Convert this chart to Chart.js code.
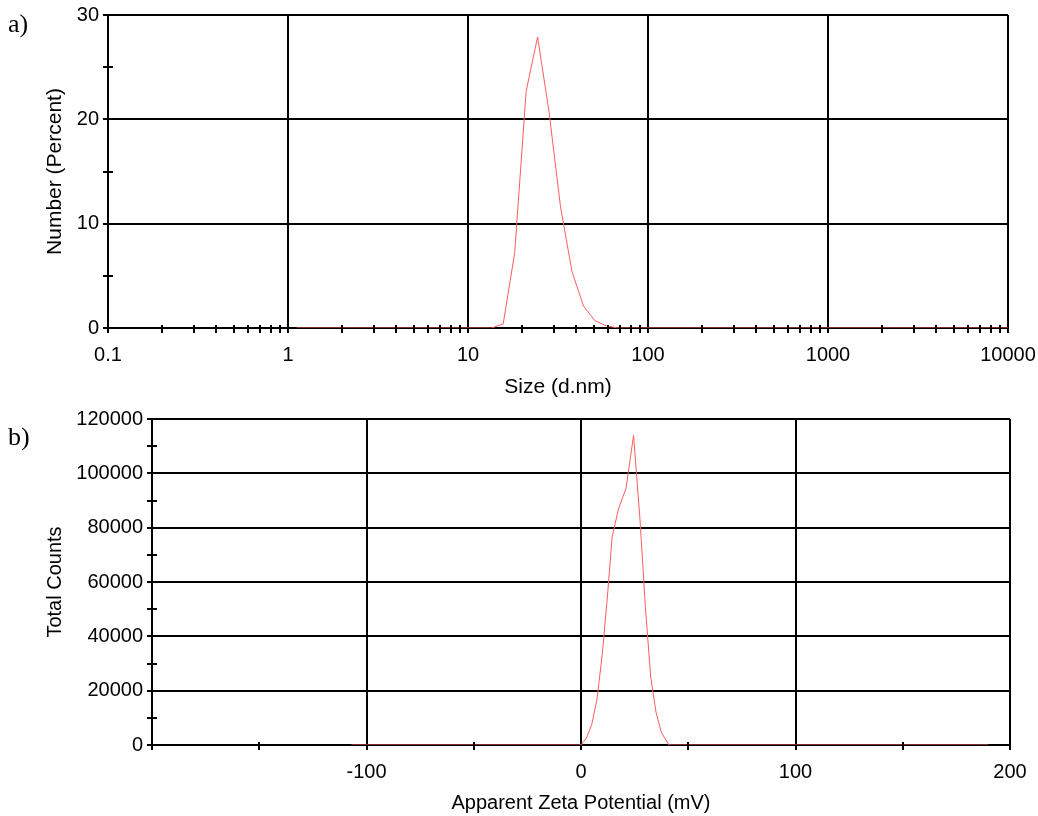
<!DOCTYPE html>
<html>
<head>
<meta charset="utf-8">
<script src="https://cdn.jsdelivr.net/npm/chart.js@4.4.1/dist/chart.umd.min.js"></script>
<style>
  body { margin: 0; background: #fff; width: 1038px; height: 816px; position: relative; overflow: hidden; }
  canvas { position: absolute; left: 0; }
  .tag { position: absolute; left: 8px; font-family: 'Liberation Serif', 'Times New Roman', serif; font-size: 26px; line-height: 1; color: #000; }
</style>
</head>
<body>
<canvas id="sizeChart" style="top:0" width="1038" height="400"></canvas>
<canvas id="zetaChart" style="top:400px" width="1038" height="416"></canvas>
<div class="tag" style="top:11px">a)</div>
<div class="tag" style="top:424px">b)</div>
<script>
// a) size distribution by number
const sizeNm = [1.117, 13.54, 15.69, 18.17, 21.04, 24.36, 28.21, 32.67, 37.84, 43.82, 50.75, 58.77, 68.06, 78.82, 10000];
const numberPct = [0, 0, 0.4, 7.2, 22.7, 27.9, 20.7, 11.6, 5.4, 2.1, 0.7, 0.2, 0, 0, 0];
const sizeTicks = [0.1, 1, 10, 100, 1000, 10000];
const numberTicks = [0, 10, 20, 30];

// b) zeta potential distribution
const zetaMv = [-107, 0, 2.5, 5, 7.5, 10, 12.5, 14.5, 17.5, 21, 24.5, 27.5, 30, 32.5, 35, 37.5, 41, 190];
const totalCounts = [0, 0, 2500, 7500, 17000, 34000, 56500, 76500, 87000, 94500, 114000, 83000, 51000, 25000, 12000, 4500, 0, 0];
const zetaTicks = [-100, 0, 100, 200];
const countTicks = [0, 20000, 40000, 60000, 80000, 100000, 120000];

const INK = '#000';
const LINE_RED = '#ff5c5c';
const FONT = { family: "'Liberation Sans', Arial, sans-serif", size: 20 };
const TITLE_FONT = { family: "'Liberation Sans', Arial, sans-serif", size: 21 };

const hasTick = (list, v) => list.some(t => Math.abs(t - v) < 1e-9 * Math.max(1, Math.abs(t)));

// which ticks are minor (no label, no grid line) per chart
const minorTests = {
  sizeChart: { x: v => !hasTick(sizeTicks, v), y: v => !hasTick(numberTicks, v) },
  zetaChart: { x: v => !hasTick(zetaTicks, v) && v !== -200, y: v => !hasTick(countTicks, v) }
};

// minor ticks cross the axis a little into the plot
const innerTicks = {
  id: 'innerTicks',
  afterDraw(chart) {
    const tests = minorTests[chart.canvas.id];
    const { ctx, chartArea } = chart;
    ctx.save();
    ctx.strokeStyle = INK;
    ctx.lineWidth = 2;
    ['x', 'y'].forEach(id => {
      const scale = chart.scales[id];
      scale.ticks.forEach(t => {
        if (!tests[id](t.value)) return;
        const p = Math.round(scale.getPixelForValue(t.value));
        ctx.beginPath();
        if (id === 'x') {
          ctx.moveTo(p, chartArea.bottom);
          ctx.lineTo(p, chartArea.bottom - 3);
        } else {
          ctx.moveTo(chartArea.left, p);
          ctx.lineTo(chartArea.left + 5, p);
        }
        ctx.stroke();
      });
    });
    ctx.restore();
  }
};

function gridFor(chartId, axis) {
  return {
    color: c => (c.tick && !minorTests[chartId][axis](c.tick.value)) ? INK : 'rgba(0,0,0,0)',
    lineWidth: 2,
    tickColor: INK,
    tickWidth: 2,
    tickLength: 5
  };
}

function makeChart(id, xs, ys, xScale, yScale, plotLeft, padTop, padRight, xHeight) {
  new Chart(document.getElementById(id), {
    type: 'line',
    data: {
      datasets: [{
        data: xs.map((x, i) => ({ x: x, y: ys[i] })),
        borderColor: LINE_RED,
        borderWidth: 1,
        pointRadius: 0,
        tension: 0,
        fill: false
      }]
    },
    options: {
      responsive: false,
      animation: false,
      events: [],
      layout: { padding: { top: padTop, right: padRight, left: 0, bottom: 0 } },
      plugins: { legend: { display: false }, tooltip: { enabled: false } },
      scales: {
        x: Object.assign({
          grid: gridFor(id, 'x'),
          border: { color: INK, width: 2 },
          afterFit(s) { s.height = xHeight; s.paddingLeft = 0; s.paddingRight = 0; }
        }, xScale),
        y: Object.assign({
          grid: gridFor(id, 'y'),
          border: { color: INK, width: 2 },
          afterFit(s) { s.width = plotLeft; s.paddingTop = 0; s.paddingBottom = 0; }
        }, yScale)
      }
    },
    plugins: [innerTicks]
  });
}

// a) Size (d.nm), log axis
makeChart('sizeChart', sizeNm, numberPct,
  {
    type: 'logarithmic',
    min: 0.1,
    max: 10000,
    afterBuildTicks(s) {
      const ticks = [];
      sizeTicks.slice(0, -1).forEach(d => {
        for (let m = 1; m <= 9; m++) ticks.push({ value: d * m });
      });
      ticks.push({ value: 10000 });
      s.ticks = ticks;
    },
    ticks: {
      autoSkip: false, maxRotation: 0, padding: 10, color: INK, font: FONT,
      callback: v => hasTick(sizeTicks, v) ? String(+v.toPrecision(6)) : ''
    },
    title: { display: true, text: 'Size (d.nm)', color: INK, font: TITLE_FONT, padding: { top: 0, bottom: 0 } }
  },
  {
    min: 0,
    max: 30,
    ticks: {
      stepSize: 5, autoSkip: false, padding: 4, color: INK, font: FONT,
      callback: v => hasTick(numberTicks, v) ? String(v) : ''
    },
    title: { display: true, text: 'Number (Percent)', color: INK, font: TITLE_FONT, padding: { top: 43, bottom: 0 } }
  },
  108, 15, 30, 72);

// b) Apparent Zeta Potential (mV)
makeChart('zetaChart', zetaMv, totalCounts,
  {
    type: 'linear',
    min: -200,
    max: 200,
    ticks: {
      stepSize: 50, autoSkip: false, maxRotation: 0, padding: 10, color: INK, font: FONT,
      callback: v => hasTick(zetaTicks, v) ? String(v) : ''
    },
    title: { display: true, text: 'Apparent Zeta Potential (mV)', color: INK, font: FONT, padding: { top: 0, bottom: 1 } }
  },
  {
    min: 0,
    max: 120000,
    ticks: {
      stepSize: 10000, autoSkip: false, padding: 4, color: INK, font: FONT,
      callback: v => hasTick(countTicks, v) ? String(v) : ''
    },
    title: { display: true, text: 'Total Counts', color: INK, font: FONT, padding: { top: 43, bottom: 0 } }
  },
  152, 19, 28, 71);
</script>
</body>
</html>
